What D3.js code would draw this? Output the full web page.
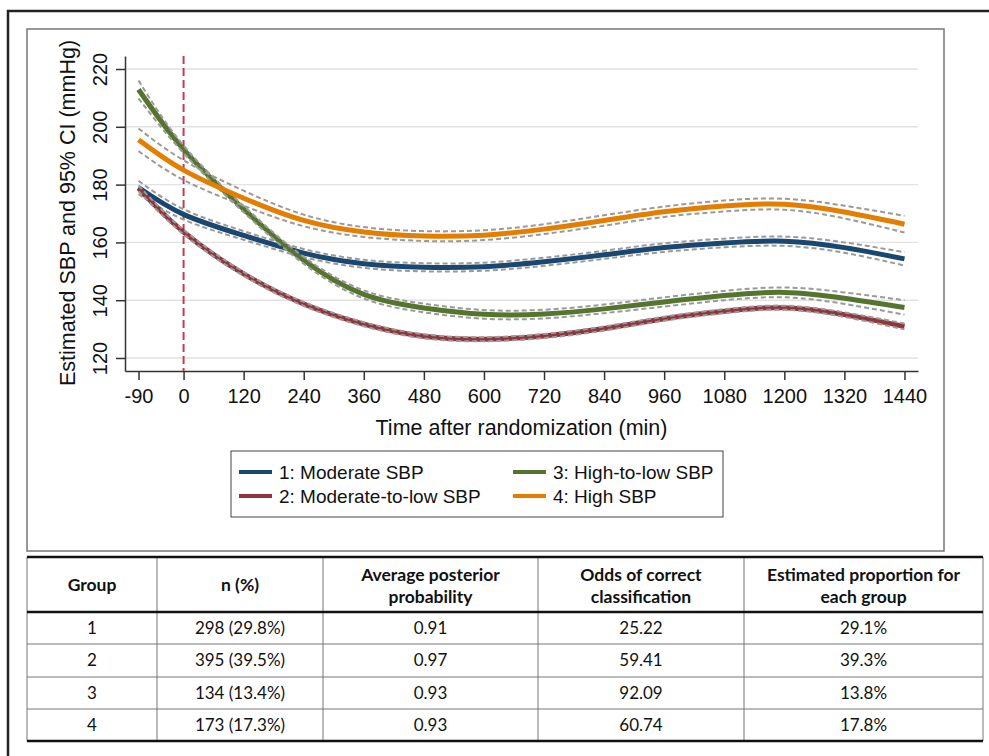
<!DOCTYPE html>
<html lang="en">
<head>
<meta charset="UTF-8">
<title>SBP trajectories</title>
<script src="https://cdn.jsdelivr.net/npm/d3@7"></script>
<style>
  body { margin: 0; background: #fff; }
  svg { display: block; }
</style>
</head>
<body>
<svg id="chart" width="989" height="756"></svg>
<script>
// time points (min after randomization)
var times = [-90, 0, 120, 240, 360, 480, 600, 720, 840, 960, 1080, 1200, 1320, 1440];

// estimated SBP per group
var sbp1 = [179.0, 169.7, 162.4, 156.3, 152.6, 151.4, 151.6, 153.3, 155.7, 158.2, 159.8, 160.4, 158.2, 154.3];
var sbp2 = [178.7, 163.6, 149.1, 138.7, 131.7, 127.5, 126.5, 127.6, 130.2, 133.6, 136.2, 137.4, 135.0, 130.9];
var sbp3 = [212.9, 192.2, 171.5, 153.8, 142.0, 137.3, 135.1, 135.2, 137.0, 139.4, 141.6, 142.7, 140.7, 137.5];
var sbp4 = [195.5, 185.0, 175.3, 167.6, 163.6, 162.2, 162.5, 164.6, 167.6, 170.6, 172.6, 173.2, 170.5, 166.3];

// half width of the 95% CI (mmHg)
var ci1 = [2.3, 1.8, 1.5, 1.4, 1.4, 1.4, 1.4, 1.4, 1.4, 1.5, 1.5, 1.6, 1.8, 2.3];
var ci2 = [1.0, 0.8, 0.7, 0.7, 0.7, 0.7, 0.7, 0.7, 0.7, 0.7, 0.7, 0.7, 0.8, 1.0];
var ci3 = [3.1, 1.3, 1.1, 1.2, 1.4, 1.5, 1.5, 1.5, 1.5, 1.6, 1.6, 1.7, 2.0, 2.5];
var ci4 = [3.9, 3.4, 2.6, 2.0, 1.7, 1.7, 1.7, 1.7, 1.8, 1.8, 1.9, 1.9, 2.2, 2.9];

var groupNames = ["1: Moderate SBP", "2: Moderate-to-low SBP", "3: High-to-low SBP", "4: High SBP"];
var groupColors = ["#1a476f", "#90353b", "#55752f", "#e37e00"];

var xTicks = [-90, 0, 120, 240, 360, 480, 600, 720, 840, 960, 1080, 1200, 1320, 1440];
var yTicks = [120, 140, 160, 180, 200, 220];

// table
var tableHead = [["Group"], ["n (%)"], ["Average posterior", "probability"], ["Odds of correct", "classification"], ["Estimated proportion for", "each group"]];
var colGroup = ["1", "2", "3", "4"];
var colN = ["298 (29.8%)", "395 (39.5%)", "134 (13.4%)", "173 (17.3%)"];
var colPost = ["0.91", "0.97", "0.93", "0.93"];
var colOdds = ["25.22", "59.41", "92.09", "60.74"];
var colProp = ["29.1%", "39.3%", "13.8%", "17.8%"];

var svg = d3.select("#chart");
var font = "'Liberation Sans', Arial, Helvetica, sans-serif";

// outer page frame
svg.append("path")
  .attr("d", "M8,760 L8,11 L995,11")
  .attr("fill", "none").attr("stroke", "#222").attr("stroke-width", 2.5);

// chart frame
svg.append("rect")
  .attr("x", 27).attr("y", 29).attr("width", 917).attr("height", 522)
  .attr("fill", "#fff").attr("stroke", "#777").attr("stroke-width", 1.5);

var x = d3.scaleLinear().domain([-117, 1467]).range([125, 918]);
var y = d3.scaleLinear().domain([115.5, 224.5]).range([371, 56]);

// gridlines
svg.append("g").selectAll("line")
  .data(yTicks).enter().append("line")
  .attr("x1", 125).attr("x2", 918)
  .attr("y1", function(d) { return y(d); })
  .attr("y2", function(d) { return y(d); })
  .attr("stroke", "#e2e2e2").attr("stroke-width", 1.4);

// axes
var plain = function(d) { return String(d); };
var gx = svg.append("g").attr("transform", "translate(0,371)")
  .call(d3.axisBottom(x).tickValues(xTicks).tickFormat(plain).tickSize(9).tickSizeOuter(0));
gx.select(".domain").attr("stroke", "#333").attr("stroke-width", 1.5);
gx.selectAll(".tick line").attr("stroke", "#333").attr("stroke-width", 1.5);
gx.selectAll(".tick text").attr("y", 18)
  .attr("font-family", font).attr("font-size", 20).attr("fill", "#111");

var gy = svg.append("g").attr("transform", "translate(125,0)")
  .call(d3.axisLeft(y).tickValues(yTicks).tickFormat(plain).tickSize(9).tickSizeOuter(0));
gy.select(".domain").attr("stroke", "#333").attr("stroke-width", 1.5);
gy.selectAll(".tick line").attr("stroke", "#333").attr("stroke-width", 1.5);
gy.selectAll(".tick text")
  .attr("x", null).attr("dy", "0.35em")
  .attr("transform", "translate(-25,0) rotate(-90)")
  .attr("text-anchor", "middle")
  .attr("font-family", font).attr("font-size", 20).attr("fill", "#111");

// axis titles
svg.append("text")
  .attr("x", 521.5).attr("y", 435)
  .attr("text-anchor", "middle")
  .attr("font-family", font).attr("font-size", 21.5).attr("fill", "#111")
  .text("Time after randomization (min)");
svg.append("text")
  .attr("transform", "translate(75,213) rotate(-90)")
  .attr("text-anchor", "middle")
  .attr("font-family", font).attr("font-size", 21.5).attr("fill", "#111")
  .text("Estimated SBP and 95% CI (mmHg)");

// randomization reference line
svg.append("line")
  .attr("x1", x(0)).attr("x2", x(0)).attr("y1", 56).attr("y2", 371)
  .attr("stroke", "#c43d52").attr("stroke-width", 2)
  .attr("stroke-dasharray", "8,4");

// curves
var groups = [
  { values: sbp1, ci: ci1 },
  { values: sbp2, ci: ci2 },
  { values: sbp3, ci: ci3 },
  { values: sbp4, ci: ci4 }
];

var line = d3.line()
  .x(function(d) { return x(d[0]); })
  .y(function(d) { return y(d[1]); })
  .curve(d3.curveNatural);

var plot = svg.append("g");
groups.forEach(function(g, i) {
  var mid = times.map(function(t, j) { return [t, g.values[j]]; });
  var lo = times.map(function(t, j) { return [t, g.values[j] - g.ci[j]]; });
  var hi = times.map(function(t, j) { return [t, g.values[j] + g.ci[j]]; });
  plot.append("path").attr("d", line(mid))
    .attr("fill", "none").attr("stroke", groupColors[i]).attr("stroke-width", 5);
  [lo, hi].forEach(function(b) {
    plot.append("path").attr("d", line(b))
      .attr("fill", "none").attr("stroke", "#9a9a9a").attr("stroke-width", 2)
      .attr("stroke-dasharray", "5,3");
  });
});

// legend
var legend = svg.append("g");
legend.append("rect")
  .attr("x", 231).attr("y", 451).attr("width", 492).attr("height", 66)
  .attr("fill", "#fff").attr("stroke", "#444").attr("stroke-width", 1);
var legPos = [[239, 472], [239, 496], [513, 472], [513, 496]];
groupNames.forEach(function(name, i) {
  var p = legPos[i];
  legend.append("line")
    .attr("x1", p[0]).attr("x2", p[0] + 33).attr("y1", p[1]).attr("y2", p[1])
    .attr("stroke", groupColors[i]).attr("stroke-width", 4);
  legend.append("text")
    .attr("x", p[0] + 40).attr("y", p[1]).attr("dy", "0.35em")
    .attr("font-family", font).attr("font-size", 19).attr("fill", "#111")
    .text(name);
});

// table under the chart
var tfont = "Lato, 'Open Sans', sans-serif";
var colX = [27, 157, 323, 538, 744, 983];
var rowY = [612, 644, 677, 709, 741];
var table = svg.append("g");

// column lines
colX.forEach(function(cx) {
  table.append("line").attr("x1", cx).attr("x2", cx).attr("y1", 557).attr("y2", 741)
    .attr("stroke", "#777").attr("stroke-width", 1);
});
// row lines
rowY.slice(1, 4).forEach(function(ry) {
  table.append("line").attr("x1", 27).attr("x2", 983).attr("y1", ry).attr("y2", ry)
    .attr("stroke", "#777").attr("stroke-width", 1);
});
[557, 612, 741].forEach(function(ry) {
  table.append("line").attr("x1", 27).attr("x2", 983).attr("y1", ry).attr("y2", ry)
    .attr("stroke", "#111").attr("stroke-width", 2.5);
});

tableHead.forEach(function(lines, c) {
  var cx = (colX[c] + colX[c + 1]) / 2;
  var ys = lines.length === 1 ? [585] : [575, 597];
  lines.forEach(function(t, k) {
    table.append("text")
      .attr("x", cx).attr("y", ys[k]).attr("dy", "0.35em")
      .attr("text-anchor", "middle")
      .attr("font-family", tfont).attr("font-size", 17.5).attr("font-weight", "bold")
      .attr("fill", "#111").text(t);
  });
});

var cols = [colGroup, colN, colPost, colOdds, colProp];
cols.forEach(function(col, c) {
  var cx = (colX[c] + colX[c + 1]) / 2;
  col.forEach(function(t, r) {
    table.append("text")
      .attr("x", cx).attr("y", (rowY[r] + rowY[r + 1]) / 2).attr("dy", "0.35em")
      .attr("text-anchor", "middle")
      .attr("font-family", tfont).attr("font-size", 17)
      .attr("fill", "#111").text(t);
  });
});
</script>
</body>
</html>
